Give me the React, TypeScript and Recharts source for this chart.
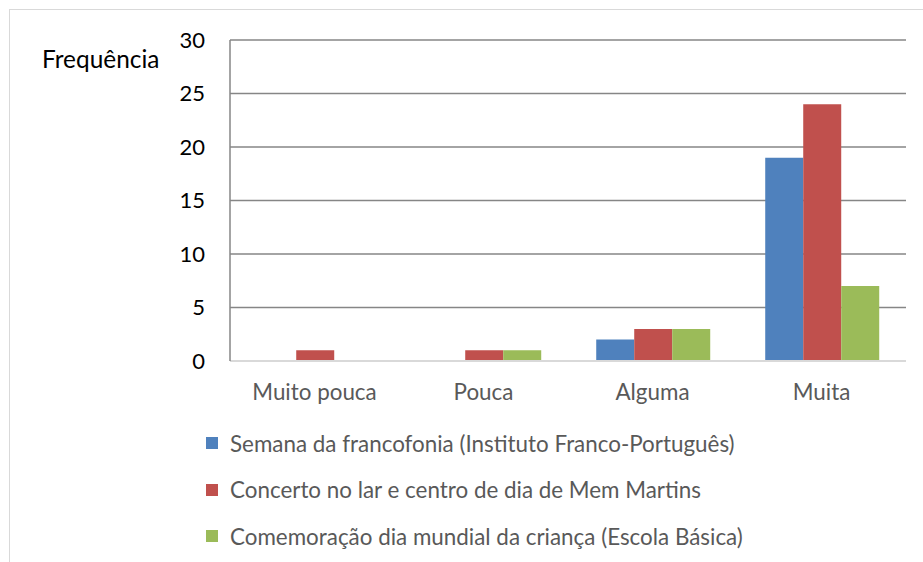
import { BarChart, Bar, XAxis, YAxis, CartesianGrid, Legend } from "recharts";

// categorias do eixo X
const categories = ["Muito pouca", "Pouca", "Alguma", "Muita"];

// séries (frequências)
const semanaFrancofonia = [0, 0, 2, 19];
const concertoLar = [1, 1, 3, 24];
const diaCrianca = [0, 1, 3, 7];

const yTicks = [0, 5, 10, 15, 20, 25, 30];

const series = [
  { key: "semana", name: "Semana da francofonia (Instituto Franco-Português)", color: "#4f81bd" },
  { key: "concerto", name: "Concerto no lar e centro de dia de Mem Martins", color: "#c0504d" },
  { key: "crianca", name: "Comemoração dia mundial da criança (Escola Básica)", color: "#9bbb59" },
];

const data = categories.map((c, i) => ({
  cat: c,
  semana: semanaFrancofonia[i],
  concerto: concertoLar[i],
  crianca: diaCrianca[i],
}));

const FONT = "Lato, 'Open Sans', sans-serif";

function LegendList() {
  return (
    <div style={{ fontFamily: FONT, fontSize: 22.4, color: "#595959" }}>
      {series.map((s) => (
        <div key={s.key} style={{ display: "flex", alignItems: "center", height: 46.5 }}>
          <span
            style={{
              display: "inline-block",
              width: 12,
              height: 12,
              background: s.color,
              marginRight: 12,
            }}
          />
          <span>{s.name}</span>
        </div>
      ))}
    </div>
  );
}

export default function App() {
  return (
    <div
      style={{
        position: "fixed",
        left: 0,
        top: 0,
        width: 923,
        height: 562,
        overflow: "hidden",
        background: "#fff",
      }}
    >
      {/* moldura do gráfico (só topo e esquerda visíveis) */}
      <div
        style={{
          position: "absolute",
          left: 9,
          top: 9,
          width: 1000,
          height: 1000,
          border: "1px solid #d9d9d9",
        }}
      />
      <div
        style={{
          position: "absolute",
          left: 42,
          top: 44,
          fontFamily: FONT,
          fontSize: 24.4,
          color: "#000",
        }}
      >
        Frequência
      </div>
      <div style={{ position: "absolute", left: 0, top: 0 }}>
        <BarChart
          width={923}
          height={562}
          data={data}
          margin={{ top: 40, right: 17, bottom: 171, left: 0 }}
          barCategoryGap="16.7%"
          barGap={0}
        >
          <CartesianGrid vertical={false} stroke="#868686" strokeWidth={1.5} />
          <XAxis
            dataKey="cat"
            tickLine={false}
            axisLine={{ stroke: "#d9d9d9", strokeWidth: 2 }}
            tickSize={0}
            tickMargin={23}
            height={30}
            tick={{ fontFamily: FONT, fontSize: 22.4, fill: "#595959" }}
          />
          <YAxis
            domain={[0, 30]}
            ticks={yTicks}
            width={230}
            tickLine={false}
            axisLine={{ stroke: "#868686", strokeWidth: 1.5 }}
            tickSize={0}
            tickMargin={25}
            interval={0}
            tick={{ fontFamily: FONT, fontSize: 22, fill: "#000" }}
          />
          <Legend
            layout="vertical"
            align="center"
            verticalAlign="middle"
            wrapperStyle={{ position: "absolute", left: 206, top: 420, width: 710 }}
            content={() => <LegendList />}
          />
          {series.map((s) => (
            <Bar
              key={s.key}
              dataKey={s.key}
              name={s.name}
              fill={s.color}
              isAnimationActive={false}
            />
          ))}
        </BarChart>
      </div>
    </div>
  );
}
